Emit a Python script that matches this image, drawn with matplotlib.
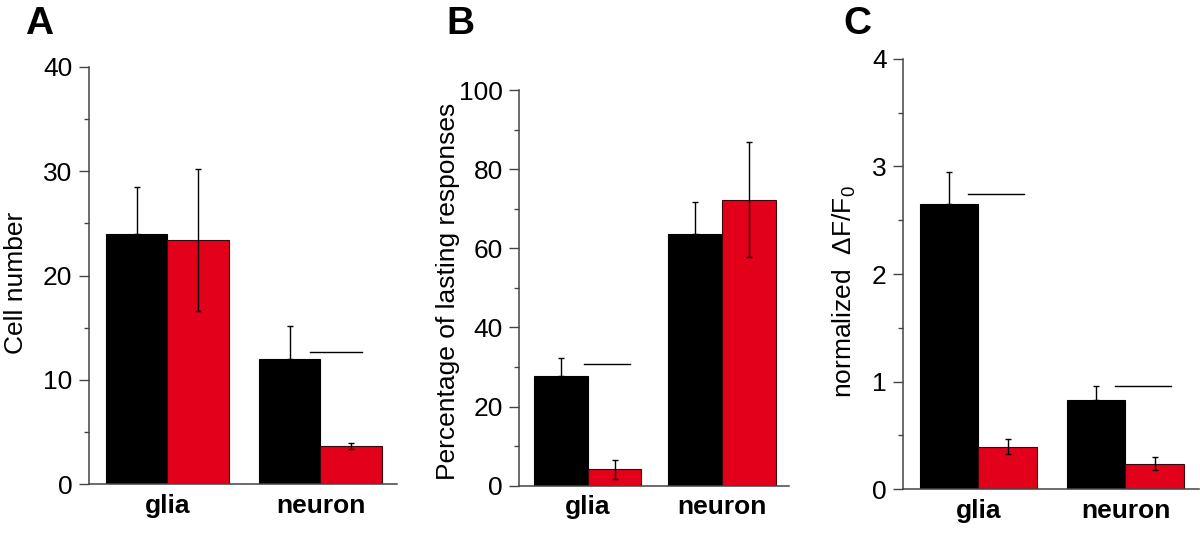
import numpy as np
import matplotlib.pyplot as plt
from matplotlib.ticker import MultipleLocator

plt.rcParams['font.family'] = ['Liberation Sans', 'DejaVu Sans']
plt.rcParams['mathtext.fontset'] = 'custom'
plt.rcParams['mathtext.rm'] = 'Liberation Sans'

groups = ['glia', 'neuron']

# Panel A: cell number
a_black = [24.0, 12.0]
a_black_err = [4.5, 3.2]
a_red = [23.4, 3.65]
a_red_err = [6.8, 0.33]

# Panel B: percentage of lasting responses
b_black = [27.7, 63.5]
b_black_err = [4.5, 8.3]
b_red = [4.2, 72.3]
b_red_err = [2.4, 14.6]

# Panel C: normalized dF/F0
c_black = [2.65, 0.83]
c_black_err = [0.30, 0.13]
c_red = [0.395, 0.238]
c_red_err = [0.07, 0.06]

# significance lines: (group index, height)
a_sig = [(1, 12.7)]
b_sig = [(0, 30.8)]
c_sig = [(0, 2.74), (1, 0.96)]

red = '#e2001a'
spine_col = '#444444'
w = 0.4

fig = plt.figure(figsize=(12, 5.39), dpi=100)

panels = [
    dict(rect=[0.0742, 0.102, 0.2567, 0.7737], black=a_black, berr=a_black_err,
         red=a_red, rerr=a_red_err, sig=a_sig, ymax=40, major=10, minor=5,
         ylabel='Cell number', letter='A', lx=0.021, sig_span=(-0.07, 0.27),
         lab=(-0.198, 0.483)),
    dict(rect=[0.4328, 0.0989, 0.2248, 0.734], black=b_black, berr=b_black_err,
         red=b_red, rerr=b_red_err, sig=b_sig, ymax=100, major=20, minor=10,
         ylabel='Percentage of lasting responses', letter='B', lx=0.372,
         sig_span=(-0.025, 0.316), lab=(-0.22, 0.491)),
    dict(rect=[0.7528, 0.0922, 0.2464, 0.7989], black=c_black, berr=c_black_err,
         red=c_red, rerr=c_red_err, sig=c_sig, ymax=4, major=1, minor=0.5,
         ylabel=r'normalized  ΔF/F$_\mathrm{0}$', letter='C', lx=0.703,
         sig_span=(-0.07, 0.31), lab=(-0.154, 0.458)),
]

x = np.arange(len(groups))
for p in panels:
    ax = fig.add_axes(p['rect'])
    ax.bar(x - w / 2, p['black'], w, color='black', edgecolor='black', linewidth=0.8)
    ax.bar(x + w / 2, p['red'], w, color=red, edgecolor='#3a0a0a', linewidth=0.8)
    # black bars: upper error only; red bars: both directions
    ax.errorbar(x - w / 2, p['black'], yerr=[np.zeros(2), p['berr']], fmt='none',
                ecolor='black', elinewidth=1, capsize=2.3, capthick=1)
    ax.errorbar(x + w / 2, p['red'], yerr=p['rerr'], fmt='none',
                ecolor='black', elinewidth=1, capsize=2.3, capthick=1)
    for gi, h in p['sig']:
        ax.plot([gi + p['sig_span'][0], gi + p['sig_span'][1]], [h, h],
                color='black', linewidth=1)

    ax.set_xlim(-0.51, 1.5)
    ax.set_ylim(0, p['ymax'])
    ax.yaxis.set_major_locator(MultipleLocator(p['major']))
    ax.yaxis.set_minor_locator(MultipleLocator(p['minor']))
    ax.set_xticks(x)
    ax.set_xticklabels(groups, fontsize=19, fontweight='bold')
    ax.tick_params(axis='x', length=0, pad=7)
    ax.tick_params(axis='y', which='major', length=7, width=1, color=spine_col,
                   labelsize=19, pad=5)
    ax.tick_params(axis='y', which='minor', length=3.5, width=1, color=spine_col)
    for s in ['top', 'right']:
        ax.spines[s].set_visible(False)
    for s in ['left', 'bottom']:
        ax.spines[s].set_color(spine_col)
        ax.spines[s].set_linewidth(1.1)
    ax.set_ylabel(p['ylabel'], fontsize=19)
    ax.yaxis.set_label_coords(*p['lab'])
    fig.text(p['lx'], 0.988, p['letter'], fontsize=28, fontweight='bold', va='top')

fig.savefig('out.png', dpi=100)
